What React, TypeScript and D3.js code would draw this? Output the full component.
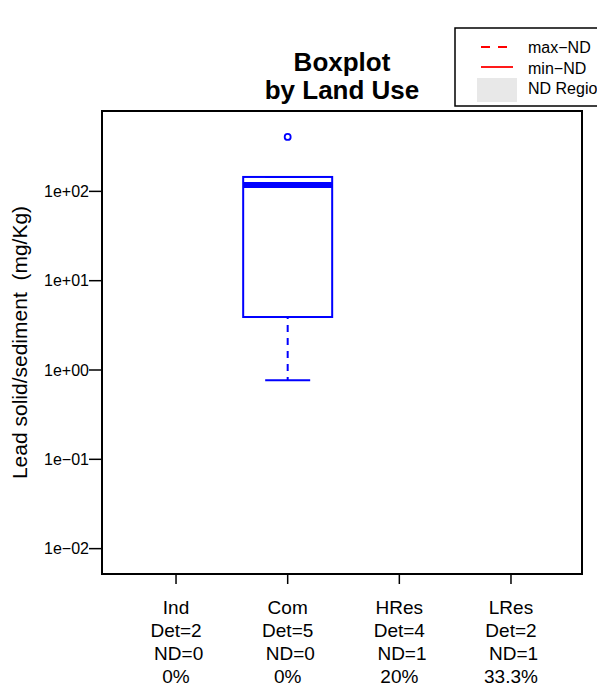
import React from "react";
import * as d3 from "d3";

const categories = ["Ind", "Com", "HRes", "LRes"];
const detCounts = [2, 5, 4, 2];
const ndCounts = [0, 0, 1, 1];
const ndPercent = ["0%", "0%", "20%", "33.3%"];
// Box stats for Com (only drawn group)
const boxCategory = "Com";
const boxLowerWhisker = 0.77;
const boxQ1 = 3.92;
const boxMedian = 118;
const boxQ3 = 145;
const boxUpperWhisker = 145;
const boxOutliers = [407];
const yTicks = [0.01, 0.1, 1, 10, 100];
const yTickLabels = ["1e\u221202", "1e\u221201", "1e+00", "1e+01", "1e+02"];
const legendLabels = ["max\u2212ND", "min\u2212ND", "ND Region"];

export default function App() {
  const W = 597, H = 697;
  const L = 102, R = 582, T = 111, B = 574;
  const y = d3.scaleLog().domain([0.0052, 794]).range([B, T]);
  const x = d3.scaleLinear().domain([0.337, 4.636]).range([L, R]);
  const font = "Liberation Sans, Arial, Helvetica, sans-serif";
  const bi = categories.indexOf(boxCategory) + 1;
  const cx = x(bi);
  const bw = 89;
  const capW = 45;
  const blue = "#0000FF";
  const pre = { whiteSpace: "pre" as const };
  return (
    <svg width={W} height={H} style={{ position: "absolute", left: 0, top: 0 }} fontFamily={font}>
      <rect x={0} y={0} width={W} height={H} fill="white" />
      {/* Title */}
      <text x={(L + R) / 2} y={71} textAnchor="middle" fontSize={26} fontWeight="bold">Boxplot</text>
      <text x={(L + R) / 2} y={99} textAnchor="middle" fontSize={26} fontWeight="bold">by Land Use</text>
      {/* Plot frame */}
      <rect x={L} y={T} width={R - L} height={B - T} fill="none" stroke="black" strokeWidth={2} />
      {/* Y axis */}
      {yTicks.map((t, i) => (
        <g key={t}>
          <line x1={L - 13} x2={L} y1={y(t)} y2={y(t)} stroke="black" strokeWidth={1.5} />
          <text x={L - 13} y={y(t) + 5.5} textAnchor="end" fontSize={16}>{yTickLabels[i]}</text>
        </g>
      ))}
      <text transform={`translate(27,${(T + B) / 2}) rotate(-90)`} textAnchor="middle" fontSize={21} style={pre} xmlSpace="preserve">
        {"Lead solid/sediment  (mg/Kg)"}
      </text>
      {/* X axis */}
      {categories.map((c, i) => {
        const px = x(i + 1);
        return (
          <g key={c}>
            <line x1={px} x2={px} y1={B} y2={B + 10} stroke="black" strokeWidth={1.5} />
            <text x={px} y={614} textAnchor="middle" fontSize={19}>{c}</text>
            <text x={px} y={637} textAnchor="middle" fontSize={19}>{`Det=${detCounts[i]}`}</text>
            <text x={px} y={660} textAnchor="middle" fontSize={19} style={pre} xmlSpace="preserve">{` ND=${ndCounts[i]}`}</text>
            <text x={px} y={683} textAnchor="middle" fontSize={19}>{ndPercent[i]}</text>
          </g>
        );
      })}
      {/* Box */}
      <rect x={cx - bw / 2} y={y(boxQ3)} width={bw} height={y(boxQ1) - y(boxQ3)} fill="none" stroke={blue} strokeWidth={2} />
      <line x1={cx - bw / 2} x2={cx + bw / 2} y1={y(boxMedian)} y2={y(boxMedian)} stroke={blue} strokeWidth={6} />
      <line x1={cx} x2={cx} y1={y(boxQ1)} y2={y(boxLowerWhisker)} stroke={blue} strokeWidth={2} strokeDasharray="7,6" strokeDashoffset={-8} />
      <line x1={cx - capW / 2} x2={cx + capW / 2} y1={y(boxLowerWhisker)} y2={y(boxLowerWhisker)} stroke={blue} strokeWidth={2} />
      <line x1={cx - capW / 2} x2={cx + capW / 2} y1={y(boxUpperWhisker)} y2={y(boxUpperWhisker)} stroke={blue} strokeWidth={2} />
      {boxOutliers.map((o) => (
        <circle key={o} cx={cx} cy={y(o)} r={3} fill="none" stroke={blue} strokeWidth={1.8} />
      ))}
      {/* Legend */}
      <rect x={455} y={28} width={160} height={78} fill="white" stroke="black" strokeWidth={1.5} />
      <line x1={481} x2={507} y1={47} y2={47} stroke="red" strokeWidth={1.8} strokeDasharray="9,8" />
      <line x1={481} x2={513} y1={67} y2={67} stroke="red" strokeWidth={1.8} />
      <rect x={477} y={78} width={40} height={24} fill="#E8E8E8" />
      {legendLabels.map((l, i) => (
        <text key={l} x={528} y={53 + i * 20.5} fontSize={16}>{l}</text>
      ))}
    </svg>
  );
}
